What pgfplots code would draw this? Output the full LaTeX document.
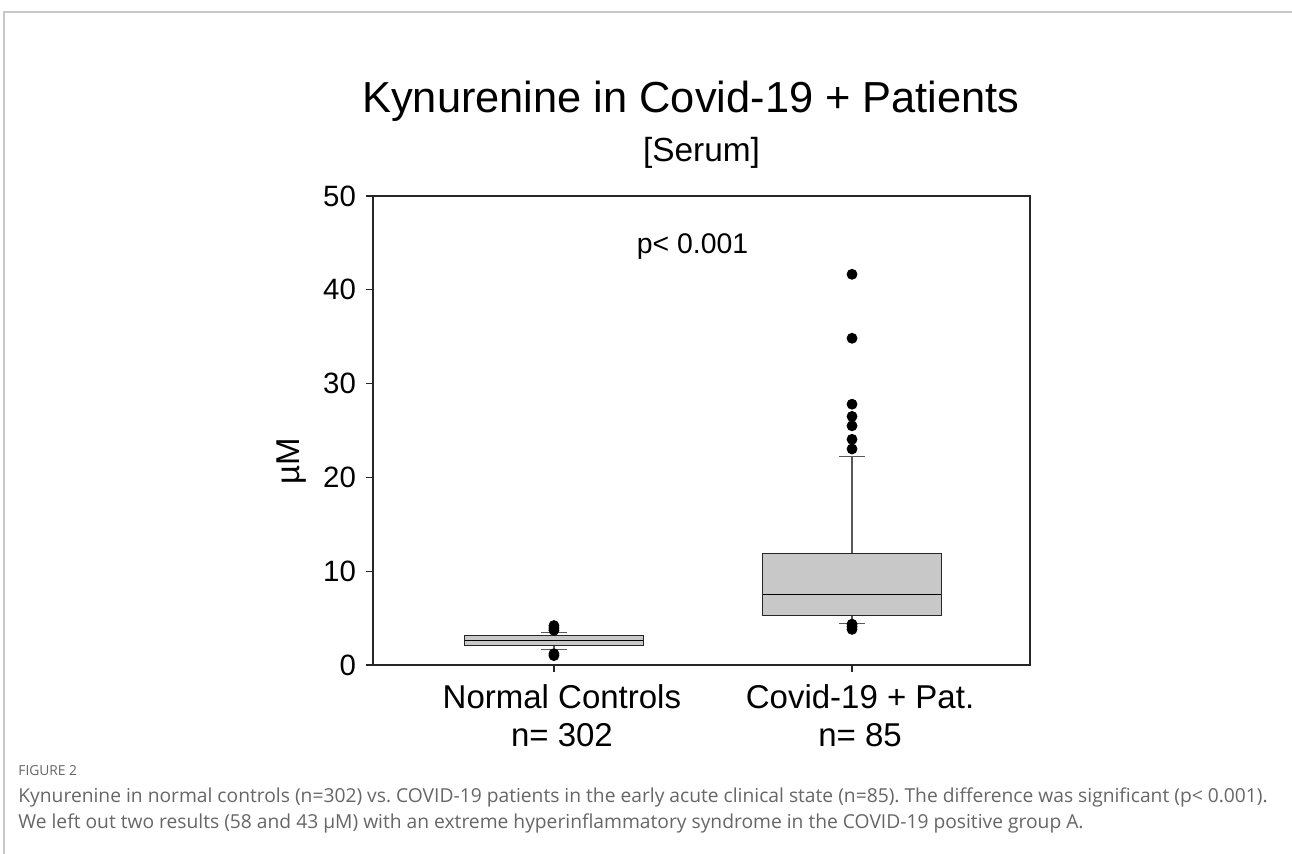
\documentclass[border=0pt]{standalone}
\usepackage{pgfplots}
\pgfplotsset{compat=1.18}
\usepgfplotslibrary{statistics}
\usepackage{fontspec}
\setmainfont{Liberation Sans}
\newfontfamily\capfont{Open Sans}
\definecolor{boxfill}{HTML}{C8C8C8}
\definecolor{framegray}{HTML}{C8C8C8}
\definecolor{capgray}{HTML}{666666}
\frenchspacing
\begin{document}
\begin{tikzpicture}[x=1pt,y=1pt]
\useasboundingbox (0,0) rectangle (646,427);
\draw[framegray, line width=0.8pt] (1.85,0) -- (1.85,421) -- (646,421);
\node[anchor=base, inner sep=0pt, font=\fontsize{21.7}{26}\selectfont] at (345.5,370.5) {Kynurenine in Covid-19 + Patients};
\node[anchor=base, inner sep=0pt, font=\fontsize{16.7}{20}\selectfont] at (350.75,346) {[Serum]};
\node[anchor=base, inner sep=0pt, font=\fontsize{14.2}{17}\selectfont] at (346.25,300) {p< 0.001};
\node[rotate=90, inner sep=0pt, font=\fontsize{16.5}{20}\selectfont] at (145.75,196.5) {µM};
\begin{axis}[at={(186.5pt,94.5pt)}, anchor=south west, scale only axis,
  width=328.5pt, height=234.5pt,
  xmin=0.393, xmax=2.597, ymin=0, ymax=50,
  xtick={1,2},
  xticklabels={{Normal Controls\\n= 302},{Covid-19 + Pat.\\n= 85}},
  x tick label style={align=center, font=\fontsize{16.5}{19}\selectfont, xshift=4pt, yshift=-3pt},
  ytick={0,10,20,30,40,50},
  y tick label style={font=\fontsize{14.7}{17}\selectfont, xshift=-1.5pt},
  /pgf/number format/assume math mode=true,
  tick align=outside, major tick length=3.5pt, tick pos=left,
  axis line style={line width=0.7pt, black!85},
  every tick/.style={line width=0.6pt, black!85},
  boxplot/draw direction=y,
  boxplot/box extend=0.6, boxplot/whisker extend=0.09,
  boxplot/every box/.style={fill=boxfill, draw=black!85, line width=0.6pt},
  boxplot/every whisker/.style={draw=black!65, line width=0.6pt},
  boxplot/every median/.style={draw=black, line width=0.7pt},
]
\addplot[boxplot prepared={draw position=1, lower whisker=1.67, lower quartile=2.06,
    median=2.59, upper quartile=3.12, upper whisker=3.44},
  mark=*, mark size=2.5pt, mark options={fill=black, draw=black}]
  table[row sep=\\, y index=0] {y\\ 3.7\\ 3.95\\ 4.2\\ 1.0\\ 1.2\\};
\addplot[boxplot prepared={draw position=2, lower whisker=4.45, lower quartile=5.3,
    median=7.5, upper quartile=11.9, upper whisker=22.2},
  mark=*, mark size=2.5pt, mark options={fill=black, draw=black}]
  table[row sep=\\, y index=0] {y\\ 41.65\\ 34.83\\ 27.8\\ 26.5\\ 25.5\\ 24.06\\ 23.03\\ 4.35\\ 4.1\\ 3.8\\};
\end{axis}
\node[anchor=base west, inner sep=0pt, text=capgray, font=\capfont\fontsize{6.9}{8}\selectfont] at (9,39) {FIGURE 2};
\node[anchor=base west, inner sep=0pt, text=capgray, font=\capfont\fontsize{9.62}{11}\selectfont] at (9,25.5) {Kynurenine in normal controls (n=302) vs. COVID-19 patients in the early acute clinical state (n=85). The difference was significant (p< 0.001).};
\node[anchor=base west, inner sep=0pt, text=capgray, font=\capfont\fontsize{9.62}{11}\selectfont] at (9,12.5) {We left out two results (58 and 43 µM) with an extreme hyperinflammatory syndrome in the COVID-19 positive group A.};
\end{tikzpicture}
\end{document}
